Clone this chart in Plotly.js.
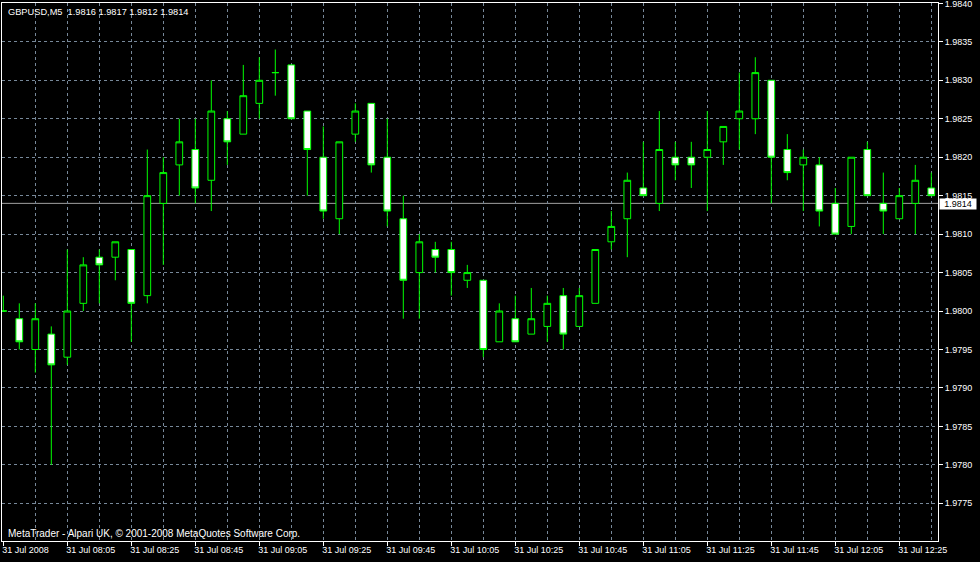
<!DOCTYPE html>
<html><head><meta charset="utf-8">
<script src="https://cdn.plot.ly/plotly-3.0.1.min.js"></script>
<style>html,body{margin:0;padding:0;background:#000;}#chart{width:980px;height:562px;}</style>
</head><body><div id="chart"></div>
<script>
const symbol = 'GBPUSD,M5';
const header = [1.9816, 1.9817, 1.9812, 1.9814];
const day = '2008-07-31';
const times = ['07:45','07:50','07:55','08:00','08:05','08:10','08:15','08:20','08:25','08:30',
  '08:35','08:40','08:45','08:50','08:55','09:00','09:05','09:10','09:15','09:20',
  '09:25','09:30','09:35','09:40','09:45','09:50','09:55','10:00','10:05','10:10',
  '10:15','10:20','10:25','10:30','10:35','10:40','10:45','10:50','10:55','11:00',
  '11:05','11:10','11:15','11:20','11:25','11:30','11:35','11:40','11:45','11:50',
  '11:55','12:00','12:05','12:10','12:15','12:20','12:25','12:30','12:35'];
const open = [1.9800,1.9799,1.9795,1.9797,1.9794,1.9801,1.9807,1.9807,1.9808,1.9802,
  1.9814,1.9819,1.9821,1.9817,1.9825,1.9823,1.9827,1.9831,1.9832,1.9826,
  1.9820,1.9812,1.9823,1.9827,1.9820,1.9812,1.9805,1.9808,1.9808,1.9804,
  1.9804,1.9796,1.9799,1.9797,1.9798,1.9802,1.9798,1.9801,1.9809,1.9812,
  1.9816,1.9814,1.9820,1.9820,1.9820,1.9822,1.9825,1.9825,1.9830,1.9821,
  1.9819,1.9819,1.9814,1.9811,1.9821,1.9814,1.9812,1.9814,1.9816];
const high = [1.9802,1.9801,1.9801,1.9798,1.9808,1.9807,1.9808,1.9809,1.9808,1.9821,
  1.9820,1.9825,1.9825,1.9830,1.9826,1.9832,1.9833,1.9834,1.9832,1.9826,
  1.9824,1.9822,1.9827,1.9827,1.9825,1.9815,1.9810,1.9809,1.9809,1.9806,
  1.9804,1.9801,1.9802,1.9803,1.9802,1.9803,1.9803,1.9808,1.9813,1.9818,
  1.9822,1.9826,1.9822,1.9822,1.9826,1.9824,1.9831,1.9833,1.9830,1.9823,
  1.9821,1.9820,1.9816,1.9820,1.9822,1.9818,1.9816,1.9819,1.9818];
const low = [1.9800,1.9795,1.9792,1.9780,1.9793,1.9800,1.9801,1.9804,1.9796,1.9801,
  1.9806,1.9815,1.9814,1.9813,1.9819,1.9823,1.9825,1.9828,1.9825,1.9815,
  1.9812,1.9810,1.9822,1.9818,1.9811,1.9799,1.9799,1.9805,1.9802,1.9803,
  1.9794,1.9796,1.9796,1.9797,1.9796,1.9795,1.9798,1.9801,1.9808,1.9807,
  1.9815,1.9813,1.9817,1.9816,1.9813,1.9819,1.9821,1.9823,1.9814,1.9817,
  1.9813,1.9811,1.9810,1.9810,1.9815,1.9810,1.9812,1.9810,1.9815];
const close = [1.9800,1.9796,1.9799,1.9793,1.9800,1.9806,1.9806,1.9809,1.9801,1.9815,
  1.9818,1.9822,1.9816,1.9826,1.9822,1.9828,1.9830,1.9831,1.9825,1.9821,
  1.9813,1.9822,1.9826,1.9819,1.9813,1.9804,1.9809,1.9807,1.9805,1.9805,
  1.9795,1.9800,1.9796,1.9799,1.9801,1.9797,1.9802,1.9808,1.9811,1.9817,
  1.9815,1.9821,1.9819,1.9819,1.9821,1.9824,1.9826,1.9831,1.9820,1.9818,
  1.9820,1.9813,1.9810,1.9820,1.9815,1.9813,1.9815,1.9817,1.9815];
const tickTimes = ['07:45','08:05','08:25','08:45','09:05','09:25','09:45','10:05',
  '10:25','10:45','11:05','11:25','11:45','12:05','12:25'];
const tickLabels = ['31 Jul 2008','31 Jul 08:05','31 Jul 08:25','31 Jul 08:45','31 Jul 09:05',
  '31 Jul 09:25','31 Jul 09:45','31 Jul 10:05','31 Jul 10:25','31 Jul 10:45','31 Jul 11:05',
  '31 Jul 11:25','31 Jul 11:45','31 Jul 12:05','31 Jul 12:25'];
const gridTimes = ['07:55','08:05','08:15','08:25','08:35','08:45','08:55','09:05','09:15','09:25',
  '09:35','09:45','09:55','10:05','10:15','10:25','10:35','10:45','10:55','11:05','11:15','11:25',
  '11:35','11:45','11:55','12:05','12:15','12:25','12:35'];
const copyright = 'MetaTrader - Alpari UK, \u00a9 2001-2008 MetaQuotes Software Corp.';

const toDate = t => day + ' ' + t;
const toMs = t => Date.UTC(2008, 6, 31, +t.slice(0, 2), +t.slice(3));
const barMs = toMs(times[1]) - toMs(times[0]);
const xRange = [toMs(times[0]) - 0.081 * barMs, toMs(times[0]) + 58.419 * barMs];

const FONT = 'Liberation Sans, Arial, sans-serif';
const GRID = '#778899';

const trace = {
  type: 'candlestick',
  x: times.map(toDate), open: open, high: high, low: low, close: close,
  increasing: {line: {color: '#00ff00', width: 1}, fillcolor: '#000000'},
  decreasing: {line: {color: '#00ff00', width: 1}, fillcolor: '#ffffff'},
  whiskerwidth: 0, hoverinfo: 'skip', showlegend: false
};

const layout = {
  width: 980, height: 562,
  margin: {l: 2, r: 42, t: 3, b: 21},
  paper_bgcolor: '#000000', plot_bgcolor: '#000000',
  boxgap: 0.4,
  showlegend: false,
  font: {family: FONT, size: 9, color: '#ffffff'},
  xaxis: {
    type: 'date', range: xRange, rangeslider: {visible: false},
    tickmode: 'array', tickvals: tickTimes.map(toDate), ticktext: tickLabels,
    ticks: 'outside', ticklen: 4, tickcolor: '#ffffff', tickwidth: 1,
    ticklabelposition: 'outside right', ticklabelshift: -2, ticklabeloverflow: 'allow',
    tickfont: {family: FONT, size: 9, color: '#ffffff'},
    showgrid: false,
    minor: {tickmode: 'array', tickvals: gridTimes.map(toDate), showgrid: true,
      gridcolor: GRID, griddash: '3px,3px', gridwidth: 1, ticks: ''},
    showline: true, linecolor: '#ffffff', linewidth: 1, mirror: true,
    zeroline: false, fixedrange: true
  },
  yaxis: {
    side: 'right', range: [1.97701, 1.984005],
    tickmode: 'linear', tick0: 1.9775, dtick: 0.0005, tickformat: '.4f',
    ticks: 'outside', ticklen: 4, tickcolor: '#ffffff', tickwidth: 1,
    ticklabeloverflow: 'allow',
    tickfont: {family: FONT, size: 9, color: '#ffffff'},
    showgrid: true, gridcolor: GRID, griddash: '3px,3px', gridwidth: 1,
    showline: true, linecolor: '#ffffff', linewidth: 1, mirror: true,
    zeroline: false, fixedrange: true
  },
  shapes: [{
    type: 'line', xref: 'paper', x0: 0, x1: 1, yref: 'y', y0: header[3], y1: header[3],
    line: {color: '#a0a0a0', width: 1}, layer: 'below'
  }],
  annotations: [
    {xref: 'paper', yref: 'paper', x: 0, y: 1, xanchor: 'left', yanchor: 'top',
     xshift: 4, yshift: -2, showarrow: false, align: 'left',
     text: symbol + '\u00a0\u00a0' + header.map(v => v.toFixed(4)).join(' '),
     font: {family: FONT, size: 9.25, color: '#ffffff'}},
    {xref: 'paper', yref: 'paper', x: 0, y: 0, xanchor: 'left', yanchor: 'bottom',
     xshift: 4, yshift: 0, showarrow: false, align: 'left', text: copyright,
     font: {family: FONT, size: 10, color: '#ffffff'}},
    {xref: 'paper', yref: 'y', x: 1, y: header[3], xanchor: 'left', yanchor: 'middle',
     xshift: 1, yshift: -0.5, showarrow: false, text: header[3].toFixed(4), bgcolor: '#ffffff',
     borderpad: 0, font: {family: FONT, size: 9, color: '#000000'}, width: 36, height: 10}
  ]
};

Plotly.newPlot('chart', [trace], layout, {displayModeBar: false, staticPlot: true});
</script>
</body></html>
